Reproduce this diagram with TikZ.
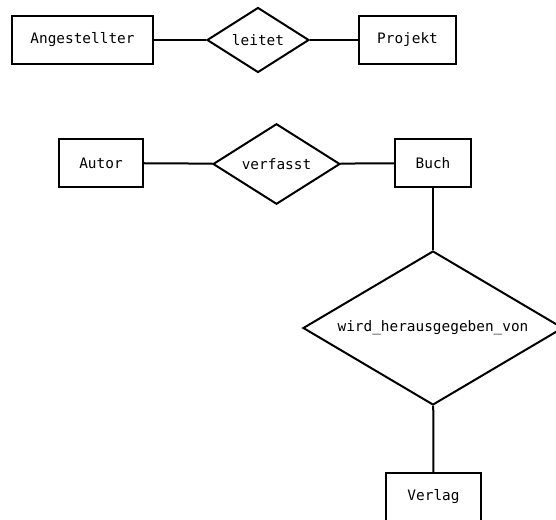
\documentclass[tikz,border=0pt]{standalone}
\usepackage{fontspec}
\newfontfamily\ermono{DejaVu Sans Mono}
\usetikzlibrary{shapes.geometric}
\tikzset{
  entity/.style={draw, line width=2pt, inner sep=0pt, font=\ermono\fontsize{14.4}{17}\selectfont},
  relation/.style={draw, diamond, line width=2pt, inner sep=0pt, font=\ermono\fontsize{14.4}{17}\selectfont},
}
\begin{document}
\begin{tikzpicture}[x=1pt, y=-1pt, line width=2pt]
      \useasboundingbox (0, 0) rectangle (556, 519);
      \node[entity, minimum width=141pt, minimum height=47pt] (ang) at (82.5, 40) {Angestellter};
      \node[relation, minimum width=102pt, minimum height=65pt] (leitet) at (258, 40) {leitet};
      \node[entity, minimum width=97pt, minimum height=47pt] (proj) at (407.5, 40) {Projekt};
      \node[entity, minimum width=84pt, minimum height=48pt] (autor) at (101, 163) {Autor};
      \node[relation, minimum width=127pt, minimum height=78pt] (verf) at (276.5, 164) {verfasst};
      \node[entity, minimum width=76pt, minimum height=48pt] (buch) at (433, 163) {Buch};
      \node[relation, aspect=1.69, minimum width=260pt, minimum height=154pt] (wird) at (433, 328) {wird\_herausgegeben\_von};
      \node[entity, minimum width=95pt, minimum height=48pt] (verlag) at (433.5, 497) {Verlag};
      \draw (ang) -- (leitet);
      \draw (leitet) -- (proj);
      \draw (autor) -- (verf);
      \draw (verf) -- (buch);
      \draw (buch) -- (wird);
      \draw (wird) -- (verlag);
    \end{tikzpicture}
\end{document}
